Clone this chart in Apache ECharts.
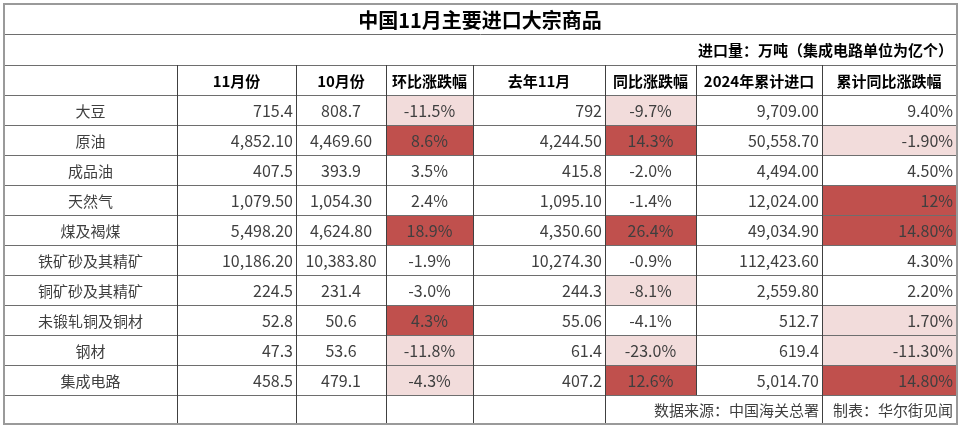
<!DOCTYPE html>
<html>
<head>
<meta charset="utf-8">
<script src="https://cdn.jsdelivr.net/npm/echarts@6/dist/echarts.min.js"></script>
<style>html,body{margin:0;padding:0;background:#fff}#main{width:960px;height:427px}</style>
</head>
<body>
<div id="main"></div>
<script>
// ---------- data ----------
var title = '中国11月主要进口大宗商品';
var unitNote = '进口量：万吨（集成电路单位为亿个）';
var headers = ['', '11月份', '10月份', '环比涨跌幅', '去年11月', '同比涨跌幅', '2024年累计进口', '累计同比涨跌幅'];
var names = ['大豆', '原油', '成品油', '天然气', '煤及褐煤', '铁矿砂及其精矿', '铜矿砂及其精矿', '未锻轧铜及铜材', '钢材', '集成电路'];
var nov2024 = ['715.4', '4,852.10', '407.5', '1,079.50', '5,498.20', '10,186.20', '224.5', '52.8', '47.3', '458.5'];
var oct2024 = ['808.7', '4,469.60', '393.9', '1,054.30', '4,624.80', '10,383.80', '231.4', '50.6', '53.6', '479.1'];
var momChange = ['-11.5%', '8.6%', '3.5%', '2.4%', '18.9%', '-1.9%', '-3.0%', '4.3%', '-11.8%', '-4.3%'];
var nov2023 = ['792', '4,244.50', '415.8', '1,095.10', '4,350.60', '10,274.30', '244.3', '55.06', '61.4', '407.2'];
var yoyChange = ['-9.7%', '14.3%', '-2.0%', '-1.4%', '26.4%', '-0.9%', '-8.1%', '-4.1%', '-23.0%', '12.6%'];
var ytd2024 = ['9,709.00', '50,558.70', '4,494.00', '12,024.00', '49,034.90', '112,423.60', '2,559.80', '512.7', '619.4', '5,014.70'];
var ytdYoy = ['9.40%', '-1.90%', '4.50%', '12%', '14.80%', '4.30%', '2.20%', '1.70%', '-11.30%', '14.80%'];
// conditional-format marks: H = strong highlight, L = light highlight
var momMark = ['L', 'H', '', '', 'H', '', '', 'H', 'L', 'L'];
var yoyMark = ['L', 'H', '', '', 'H', '', 'L', '', 'L', 'H'];
var ytdMark = ['', 'L', '', 'H', 'H', '', '', 'L', 'L', 'H'];
var sourceNote = '数据来源：中国海关总署';
var authorNote = '制表：华尔街见闻';

// ---------- layout ----------
var colEdges = [0, 173, 292, 382, 469, 601, 692, 818, 952];
var rowEdges = [0, 30, 61, 91, 121, 151, 181, 211, 241, 271, 301, 331, 361, 391, 419];
var colAlign = ['center', 'right', 'center', 'center', 'right', 'center', 'right', 'right'];
var fillColor = { H: '#c0504d', L: '#f2dcdb', '': '#ffffff' };
var FONT = '"Noto Sans CJK SC", "Noto Sans", sans-serif';

var columns = [names, nov2024, oct2024, momChange, nov2023, yoyChange, ytd2024, ytdYoy];
var marks = { 3: momMark, 5: yoyMark, 7: ytdMark };

var cells = [];
cells.push({ c0: 0, c1: 8, r0: 0, r1: 1, text: title, align: 'center', fill: '#fff', font: 'bold 20px ' + FONT, color: '#000' });
cells.push({ c0: 0, c1: 8, r0: 1, r1: 2, text: unitNote, align: 'right', fill: '#fff', font: 'bold 15px ' + FONT, color: '#000' });
headers.forEach(function (h, c) {
  cells.push({ c0: c, c1: c + 1, r0: 2, r1: 3, text: h, align: 'center', fill: '#fff', font: 'bold 15px ' + FONT, color: '#000' });
});
names.forEach(function (n, r) {
  columns.forEach(function (col, c) {
    var m = marks[c] ? marks[c][r] : '';
    cells.push({
      c0: c, c1: c + 1, r0: 3 + r, r1: 4 + r, text: col[r], align: colAlign[c],
      fill: fillColor[m], font: (c === 0 ? '15px ' : '16px ') + FONT, color: '#3f3f3f'
    });
  });
});
var fr = 3 + names.length;
[0, 1, 2, 3, 4].forEach(function (c) {
  cells.push({ c0: c, c1: c + 1, r0: fr, r1: fr + 1, text: '', align: 'center', fill: '#fff', font: '15px ' + FONT, color: '#3f3f3f' });
});
cells.push({ c0: 5, c1: 7, r0: fr, r1: fr + 1, text: sourceNote, align: 'right', fill: '#fff', font: '15px ' + FONT, color: '#3f3f3f' });
cells.push({ c0: 7, c1: 8, r0: fr, r1: fr + 1, text: authorNote, align: 'right', fill: '#fff', font: '15px ' + FONT, color: '#3f3f3f' });

function px(v) { return Math.round(v) + 0.5; }

var chart = echarts.init(document.getElementById('main'), null, { renderer: 'canvas' });
chart.setOption({
  animation: false,
  backgroundColor: '#fff',
  grid: { left: 4, right: 4, top: 4, bottom: 4 },
  xAxis: { type: 'value', min: 0, max: colEdges[colEdges.length - 1], show: false },
  yAxis: { type: 'value', min: 0, max: rowEdges[rowEdges.length - 1], inverse: true, show: false },
  series: [{
    type: 'custom',
    clip: false,
    coordinateSystem: 'cartesian2d',
    data: cells.map(function (c) { return [colEdges[c.c0], rowEdges[c.r0], colEdges[c.c1], rowEdges[c.r1]]; }),
    renderItem: function (params, api) {
      var cell = cells[params.dataIndex];
      var p0 = api.coord([api.value(0), api.value(1)]);
      var p1 = api.coord([api.value(2), api.value(3)]);
      var x0 = Math.round(p0[0]), y0 = Math.round(p0[1]), x1 = Math.round(p1[0]), y1 = Math.round(p1[1]);
      var tx = cell.align === 'center' ? (x0 + x1) / 2 : (cell.align === 'right' ? x1 - 3 : x0 + 3);
      var hColor = '#6e6e6e', vColor = '#404040';
      return {
        type: 'group',
        children: [
          { type: 'rect', shape: { x: x0, y: y0, width: x1 - x0, height: y1 - y0 }, style: { fill: cell.fill } },
          { type: 'line', shape: { x1: x0, y1: px(y0), x2: x1 + 1, y2: px(y0) }, style: { stroke: hColor, lineWidth: 1 } },
          { type: 'line', shape: { x1: x0, y1: px(y1), x2: x1 + 1, y2: px(y1) }, style: { stroke: hColor, lineWidth: 1 } },
          { type: 'line', shape: { x1: px(x0), y1: y0, x2: px(x0), y2: y1 + 1 }, style: { stroke: vColor, lineWidth: 1 } },
          { type: 'line', shape: { x1: px(x1), y1: y0, x2: px(x1), y2: y1 + 1 }, style: { stroke: vColor, lineWidth: 1 } },
          { type: 'text', style: { x: tx, y: (y0 + y1) / 2 + 1, text: cell.text, textAlign: cell.align, textVerticalAlign: 'middle', font: cell.font, fill: cell.color } }
        ]
      };
    }
  }],
  graphic: []
});
// outer border drawn on the grid's extent via axis-converted coordinates
var tl = chart.convertToPixel({ gridIndex: 0 }, [0, 0]);
var br = chart.convertToPixel({ gridIndex: 0 }, [colEdges[colEdges.length - 1], rowEdges[rowEdges.length - 1]]);
chart.setOption({
  graphic: [{ type: 'rect', silent: true, z: 100, shape: { x: tl[0], y: tl[1], width: br[0] - tl[0] + 1, height: br[1] - tl[1] + 1 }, style: { fill: 'none', stroke: '#9a9a9a', lineWidth: 2 } }]
});
</script>
</body>
</html>
